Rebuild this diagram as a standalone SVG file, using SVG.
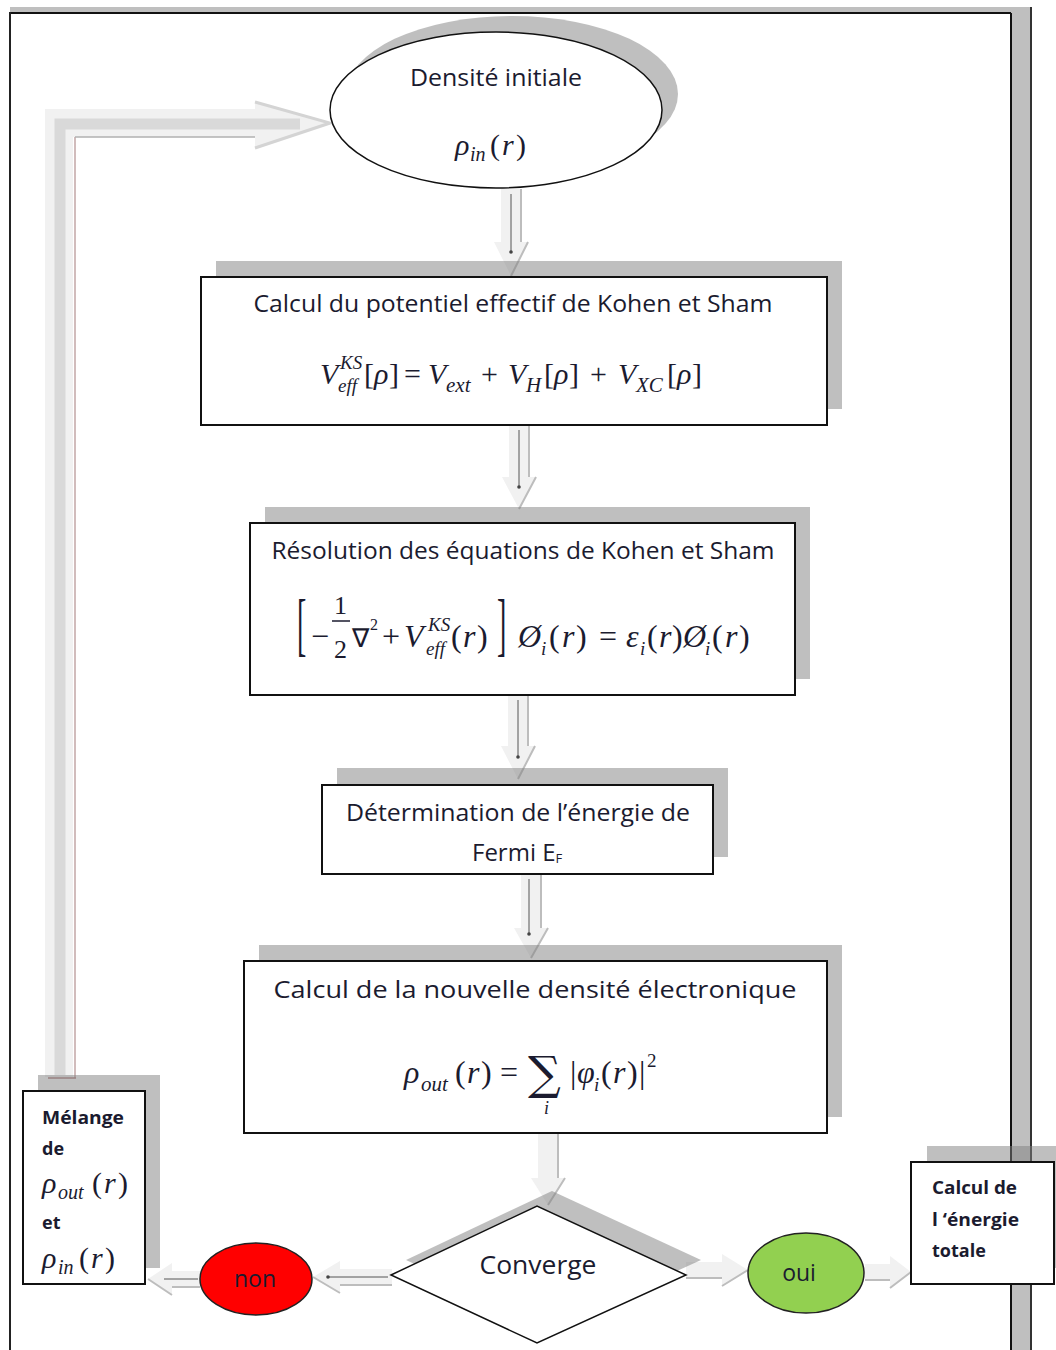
<svg xmlns="http://www.w3.org/2000/svg" width="1056" height="1350" viewBox="0 0 1056 1350">
<style>
.box{fill:#fff;stroke:#111;stroke-width:2}
.sh{fill:#808080;fill-opacity:0.5}
.t{font-family:"Open Sans","Liberation Sans",Arial,sans-serif;fill:#1b1b2f}
.b{font-family:"Open Sans","Liberation Sans",Arial,sans-serif;font-weight:bold;fill:#1b1b2f;font-size:18px}
.m{font-family:"Liberation Serif","Times New Roman",serif;font-style:italic;fill:#1b1b2f}
.u{font-style:normal}
.ab{fill:#f1f1f1}
.ae{fill:none;stroke:#bdbdbd;stroke-width:2}
.al{stroke:#555;stroke-width:1;fill:none}
.dot{fill:#444}
</style>

<g id="page">
<rect x="10" y="7" width="1020" height="6" fill="#bfbfbf"/>
<rect x="1011" y="7" width="19" height="1343" fill="#bfbfbf"/>
<line x1="10" y1="13" x2="1011" y2="13" stroke="#111" stroke-width="2"/>
<line x1="10" y1="12" x2="10" y2="1350" stroke="#222" stroke-width="2"/>
<line x1="1011" y1="13" x2="1011" y2="1350" stroke="#111" stroke-width="2"/>
<line x1="1031" y1="7" x2="1031" y2="1350" stroke="#333" stroke-width="2"/>
</g>

<g id="connectors">
<path d="M45,1077 V109 H255 V102 L330,123 L255,148 V137 H73 V1077 Z" fill="#f1f1f1"/>
<path d="M60,1075 V124 H300" stroke="#d9d9d9" stroke-width="11" fill="none"/>
<path d="M255,102 L330,123 L255,148" stroke="#d4d4d4" stroke-width="3" fill="none"/>
<path d="M75,1078 V137" stroke="#b89898" stroke-width="1.3" fill="none"/>
<path d="M75,137 H255" stroke="#b0b0b0" stroke-width="1.3" fill="none"/>
<line x1="48" y1="1078" x2="76" y2="1078" stroke="#b08080" stroke-width="1.5"/>

<polygon class="ab" points="501,189 521,189 521,242 528,242 511,276 494,242 501,242"/>
<path class="ae" d="M521,189 V242 M528,242 L511,276"/>
<path class="al" d="M511,194 V252"/><circle class="dot" cx="511" cy="252" r="1.8"/>

<polygon class="ab" points="509,426 529,426 529,477 536,477 519,509 502,477 509,477"/>
<path class="ae" d="M529,426 V477 M536,477 L519,509"/>
<path class="al" d="M519,430 V487"/><circle class="dot" cx="519" cy="487" r="1.8"/>

<polygon class="ab" points="508,696 528,696 528,746 535,746 518,779 501,746 508,746"/>
<path class="ae" d="M528,696 V746 M535,746 L518,779"/>
<path class="al" d="M518,700 V757"/><circle class="dot" cx="518" cy="757" r="1.8"/>

<polygon class="ab" points="521,875 541,875 541,928 548,928 531,958 514,928 521,928"/>
<path class="ae" d="M541,875 V928 M548,928 L531,958"/>
<path class="al" d="M529,879 V934"/><circle class="dot" cx="529" cy="934" r="1.8"/>

<polygon class="ab" points="538,1134 558,1134 558,1178 565,1178 548,1205 531,1178 538,1178"/>
<path class="ae" d="M558,1134 V1178 M565,1178 L548,1205"/>

<polygon class="ab" points="392,1269 392,1285 340,1285 340,1293 313,1277 340,1261 340,1269"/>
<path class="ae" d="M392,1285 H340 M340,1293 L313,1277"/>
<path class="al" d="M388,1277 H328"/><circle class="dot" cx="328" cy="1277" r="1.8"/>

<polygon class="ab" points="200,1271 200,1287 172,1287 172,1295 148,1279 172,1263 172,1271"/>
<path class="ae" d="M200,1287 H172 M172,1295 L148,1279"/>
<path class="al" d="M198,1279 H164"/>

<polygon class="ab" points="686,1262 722,1262 722,1254 748,1270 722,1286 722,1278 686,1278"/>
<path class="ae" d="M686,1278 H722 M722,1286 L748,1270"/>

<polygon class="ab" points="865,1264 890,1264 890,1256 911,1272 890,1288 890,1280 865,1280"/>
<path class="ae" d="M865,1280 H890 M890,1288 L911,1272"/>
</g>

<g id="n-initiale">
<ellipse class="sh" cx="512" cy="94" rx="166" ry="78"/>
<ellipse cx="496" cy="110" rx="166" ry="78" fill="#fff" stroke="#111" stroke-width="1.5"/>
<text class="t" x="496" y="86" font-size="23" text-anchor="middle" textLength="172" lengthAdjust="spacingAndGlyphs">Densité initiale</text>
<text class="m" font-size="30"><tspan x="455" y="155">ρ</tspan><tspan x="470" y="161" font-size="20">in</tspan><tspan x="490" y="155" class="u">(</tspan><tspan x="502" y="155">r</tspan><tspan x="516" y="155" class="u">)</tspan></text>
</g>

<g id="n-potentiel">
<rect class="sh" x="216" y="261" width="626" height="148"/>
<rect class="box" x="201" y="277" width="626" height="148"/>
<text class="t" x="513" y="312" font-size="24" text-anchor="middle" textLength="519" lengthAdjust="spacingAndGlyphs">Calcul du potentiel effectif de Kohen et Sham</text>
<text class="m" font-size="30"><tspan x="320" y="384">V</tspan><tspan x="340" y="369" font-size="19">KS</tspan><tspan x="338" y="392" font-size="19">eff</tspan><tspan x="364" y="384" class="u">[</tspan><tspan x="374" y="384">ρ</tspan><tspan x="389" y="384" class="u">]</tspan><tspan x="404" y="384" class="u">=</tspan><tspan x="428" y="384">V</tspan><tspan x="446" y="392" font-size="21">ext</tspan><tspan x="481" y="384" class="u">+</tspan><tspan x="508" y="384">V</tspan><tspan x="526" y="392" font-size="21">H</tspan><tspan x="544" y="384" class="u">[</tspan><tspan x="554" y="384">ρ</tspan><tspan x="569" y="384" class="u">]</tspan><tspan x="590" y="384" class="u">+</tspan><tspan x="618" y="384">V</tspan><tspan x="636" y="392" font-size="21">XC</tspan><tspan x="667" y="384" class="u">[</tspan><tspan x="677" y="384">ρ</tspan><tspan x="692" y="384" class="u">]</tspan></text>
</g>

<g id="n-resolution">
<rect class="sh" x="265" y="507" width="545" height="172"/>
<rect class="box" x="250" y="523" width="545" height="172"/>
<text class="t" x="523" y="559" font-size="24" text-anchor="middle" textLength="503" lengthAdjust="spacingAndGlyphs">Résolution des équations de Kohen et Sham</text>
<text class="m u" font-size="28" transform="translate(297,648) scale(1,2.5)">[</text>
<text class="m u" font-size="28" transform="translate(497,648) scale(1,2.5)">]</text>
<line x1="332" y1="621" x2="350" y2="621" stroke="#1b1b2f" stroke-width="1.5"/>
<text class="m" font-size="32"><tspan x="311" y="647" class="u">−</tspan><tspan x="334" y="614" class="u" font-size="26">1</tspan><tspan x="334" y="658" class="u" font-size="26">2</tspan><tspan x="352" y="647" class="u" font-size="26">∇</tspan><tspan x="370" y="630" class="u" font-size="16">2</tspan><tspan x="382" y="647" class="u">+</tspan><tspan x="404" y="647">V</tspan><tspan x="428" y="631" font-size="19">KS</tspan><tspan x="426" y="655" font-size="19">eff</tspan><tspan x="451" y="647" class="u">(</tspan><tspan x="463" y="647">r</tspan><tspan x="477" y="647" class="u">)</tspan></text>
<text class="m" font-size="32"><tspan x="518" y="647">Ø</tspan><tspan x="541" y="655" font-size="19">i</tspan><tspan x="549" y="647" class="u">(</tspan><tspan x="562" y="647">r</tspan><tspan x="576" y="647" class="u">)</tspan><tspan x="599" y="647" class="u">=</tspan><tspan x="626" y="647">ε</tspan><tspan x="640" y="655" font-size="19">i</tspan><tspan x="647" y="647" class="u">(</tspan><tspan x="659" y="647">r</tspan><tspan x="672" y="647" class="u">)</tspan><tspan x="683" y="647">Ø</tspan><tspan x="705" y="655" font-size="19">i</tspan><tspan x="712" y="647" class="u">(</tspan><tspan x="725" y="647">r</tspan><tspan x="739" y="647" class="u">)</tspan></text>
</g>

<g id="n-fermi">
<rect class="sh" x="337" y="768" width="391" height="89"/>
<rect class="box" x="322" y="785" width="391" height="89"/>
<text class="t" x="518" y="821" font-size="24" text-anchor="middle" textLength="344" lengthAdjust="spacingAndGlyphs">Détermination de l’énergie de</text>
<text class="t" x="472" y="861" font-size="24">Fermi E<tspan font-size="13" dy="2">F</tspan></text>
</g>

<g id="n-densite">
<rect class="sh" x="259" y="945" width="583" height="172"/>
<rect class="box" x="244" y="961" width="583" height="172"/>
<text class="t" x="535" y="998" font-size="24" text-anchor="middle" textLength="523" lengthAdjust="spacingAndGlyphs">Calcul de la nouvelle densité électronique</text>
<text class="m" font-size="32"><tspan x="404" y="1083">ρ</tspan><tspan x="421" y="1091" font-size="21">out</tspan><tspan x="455" y="1083" class="u">(</tspan><tspan x="467" y="1083">r</tspan><tspan x="481" y="1083" class="u">)</tspan><tspan x="500" y="1083" class="u">=</tspan><tspan x="528" y="1089" class="u" font-family="'DejaVu Serif',serif" font-size="46">∑</tspan><tspan x="544" y="1114" font-size="18">i</tspan><tspan x="570" y="1083" class="u">|</tspan><tspan x="577" y="1083">φ</tspan><tspan x="594" y="1091" font-size="19">i</tspan><tspan x="601" y="1083" class="u">(</tspan><tspan x="613" y="1083">r</tspan><tspan x="627" y="1083" class="u">)</tspan><tspan x="639" y="1083" class="u">|</tspan><tspan x="647" y="1067" class="u" font-size="19">2</tspan></text>
</g>

<g id="n-melange">
<rect class="sh" x="38" y="1075" width="122" height="193"/>
<rect class="box" x="23" y="1091" width="122" height="193"/>
<text class="b" x="42" y="1124" textLength="82" lengthAdjust="spacingAndGlyphs">Mélange</text>
<text class="b" x="42" y="1155">de</text>
<text class="m" font-size="30"><tspan x="42" y="1193">ρ</tspan><tspan x="58" y="1199" font-size="20">out</tspan><tspan x="92" y="1193" class="u">(</tspan><tspan x="104" y="1193">r</tspan><tspan x="118" y="1193" class="u">)</tspan></text>
<text class="b" x="42" y="1229">et</text>
<text class="m" font-size="30"><tspan x="42" y="1268">ρ</tspan><tspan x="58" y="1274" font-size="20">in</tspan><tspan x="79" y="1268" class="u">(</tspan><tspan x="91" y="1268">r</tspan><tspan x="105" y="1268" class="u">)</tspan></text>
</g>

<g id="n-converge">
<polygon class="sh" points="406,1260 552,1191 701,1260 552,1328"/>
<polygon points="391,1275 537,1206 686,1275 537,1343" fill="#fff" stroke="#111" stroke-width="1.5"/>
<text class="t" x="538" y="1274" font-size="26" text-anchor="middle" textLength="117" lengthAdjust="spacingAndGlyphs">Converge</text>
</g>

<g id="n-non">
<ellipse cx="256" cy="1279" rx="56" ry="36" fill="#ff0000" stroke="#222" stroke-width="1.5"/>
<text class="t" x="255" y="1287" font-size="23" text-anchor="middle">non</text>
</g>

<g id="n-oui">
<ellipse cx="806" cy="1273" rx="58" ry="40" fill="#92d050" stroke="#222" stroke-width="1.5"/>
<text class="t" x="799" y="1281" font-size="23" text-anchor="middle">oui</text>
</g>

<g id="n-energie">
<rect class="sh" x="927" y="1146" width="140" height="122"/>
<rect class="box" x="911" y="1162" width="143" height="122"/>
<text class="b" x="932" y="1194" font-size="17" textLength="85" lengthAdjust="spacingAndGlyphs">Calcul de</text>
<text class="b" x="932" y="1226" font-size="17" textLength="87" lengthAdjust="spacingAndGlyphs">l ‘énergie</text>
<text class="b" x="932" y="1257" font-size="17">totale</text>
</g>
</svg>
